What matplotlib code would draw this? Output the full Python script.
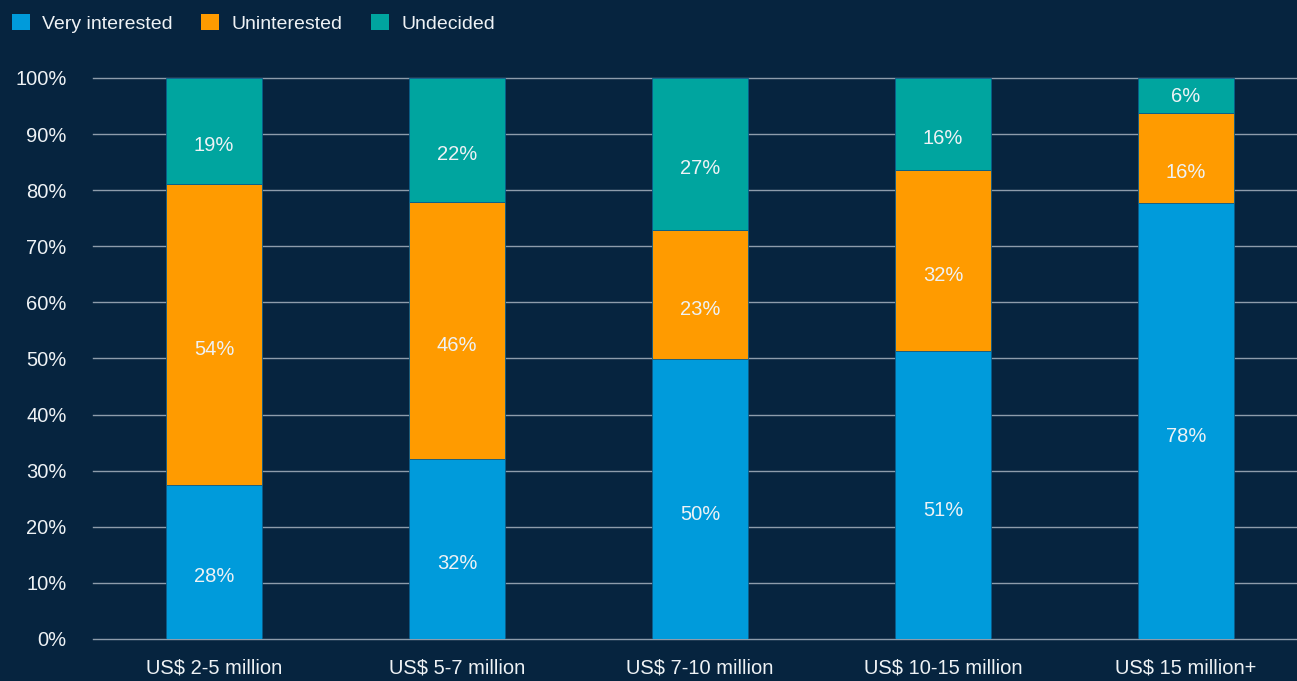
import matplotlib
matplotlib.use('Agg')
import matplotlib.pyplot as plt
from matplotlib.patches import Patch
from matplotlib.ticker import PercentFormatter

# 数据
categories = ['US$ 2-5 million', 'US$ 5-7 million', 'US$ 7-10 million',
              'US$ 10-15 million', 'US$ 15 million+']
very_interested = [27.5, 32.1, 49.9, 51.3, 77.7]
uninterested = [53.6, 45.8, 23.0, 32.3, 16.1]
undecided = [18.9, 22.1, 27.1, 16.4, 6.2]
label_very = ['28%', '32%', '50%', '51%', '78%']
label_unint = ['54%', '46%', '23%', '32%', '16%']
label_undec = ['19%', '22%', '27%', '16%', '6%']

bg = '#06243f'
txt = '#eef2f5'
colors = ['#009bdb', '#ff9b00', '#00a59f']

plt.rcParams['font.family'] = ['Liberation Sans', 'DejaVu Sans']

fig = plt.figure(figsize=(12.97, 6.81), dpi=100, facecolor=bg)
ax = fig.add_axes([0.0717, 0.0617, 0.9283, 0.8238], facecolor=bg)

x = list(range(len(categories)))
width = 0.395
series = [(very_interested, label_very), (uninterested, label_unint), (undecided, label_undec)]
bottom = [0.0] * len(x)
px_per_unit = 561 / 100  # 像素/百分点
for (vals, labels), c in zip(series, colors):
    ax.bar(x, vals, width, bottom=bottom, color=c, zorder=3,
           edgecolor='#0b5c8a', linewidth=0.6)
    for i, (v, lab) in enumerate(zip(vals, labels)):
        seg_px = v * px_per_unit
        off = min(15, seg_px / 2 - 16)
        ax.annotate(lab, (x[i], bottom[i] + v / 2), xytext=(0, -off * 0.72),
                    textcoords='offset points', ha='center', va='center',
                    color=txt, fontsize=14.5, zorder=4)
    bottom = [b + v for b, v in zip(bottom, vals)]

ax.set_xlim(-0.498, 4.457)
ax.set_ylim(0, 100)
ax.set_yticks(range(0, 101, 10))
ax.yaxis.set_major_formatter(PercentFormatter(decimals=0))
ax.set_xticks(x)
ax.set_xticklabels(categories)
ax.tick_params(axis='both', length=0, colors=txt, labelsize=14.5)
ax.tick_params(axis='y', pad=19)
ax.tick_params(axis='x', pad=14)
ax.grid(axis='y', color='#8d9cab', linewidth=1.0, zorder=1)
for gl in ax.get_ygridlines():
    gl.set_clip_on(False)
for s in ax.spines.values():
    s.set_visible(False)

handles = [Patch(facecolor=c, edgecolor='none') for c in colors]
fig.legend(handles, ['Very interested', 'Uninterested', 'Undecided'],
           loc='upper left', bbox_to_anchor=(-0.0015, 1.0), ncol=3, frameon=False,
           fontsize=14, labelcolor=txt, handlelength=0.95, handleheight=0.95,
           handletextpad=0.62, columnspacing=1.45, borderaxespad=0.3)

plt.savefig('out.png', dpi=100, facecolor=bg)
